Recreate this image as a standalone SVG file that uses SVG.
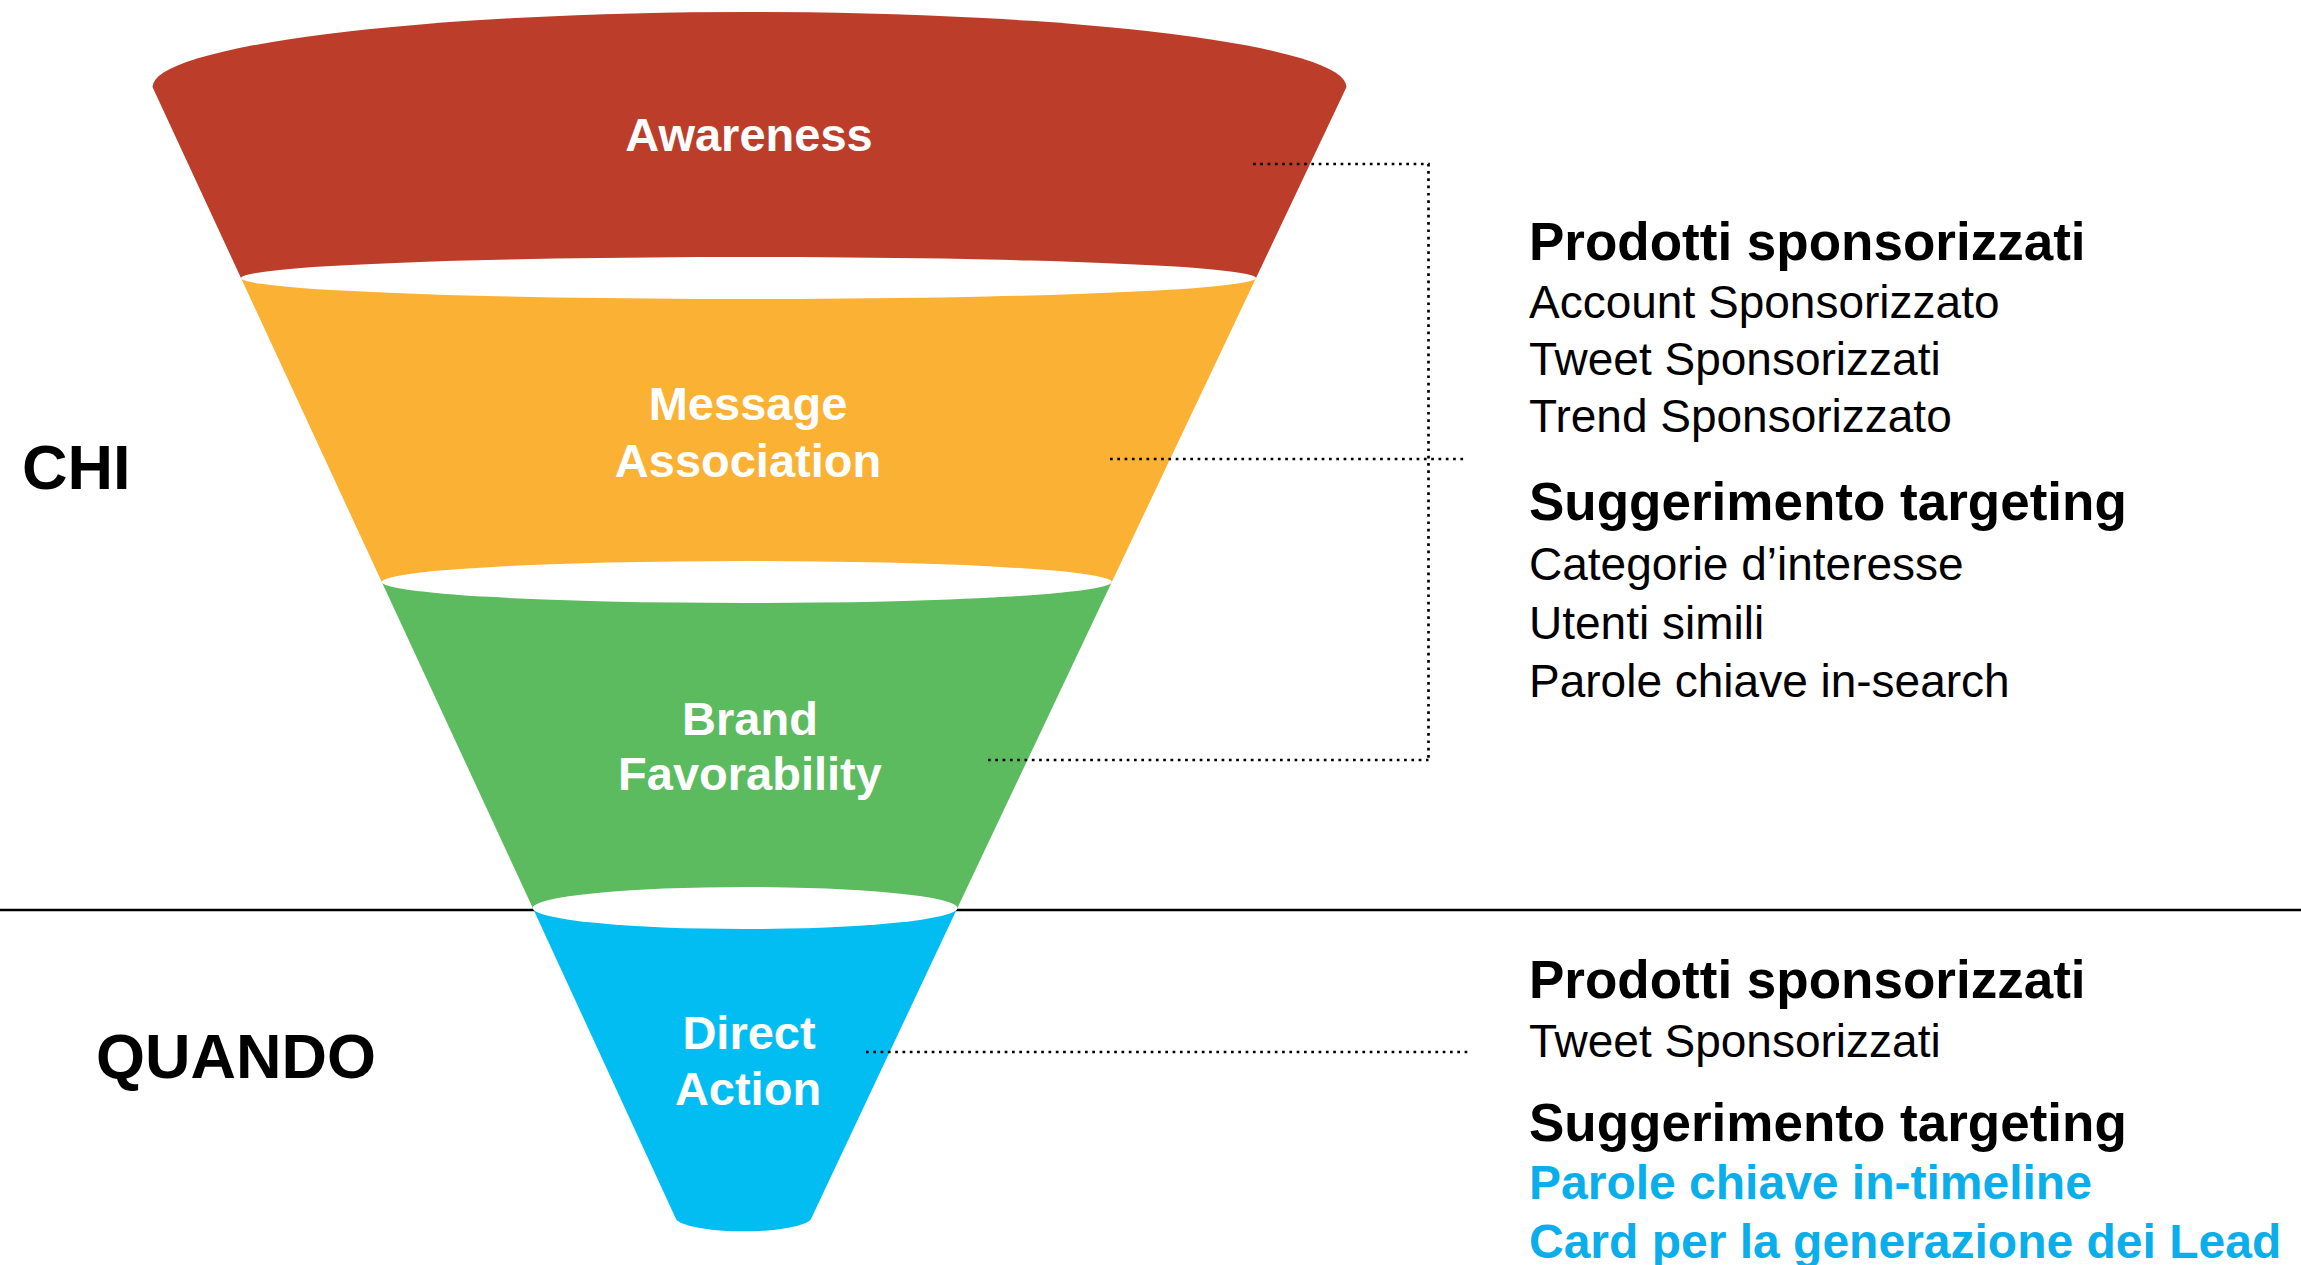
<svg xmlns="http://www.w3.org/2000/svg" width="2301" height="1265" viewBox="0 0 2301 1265">
  <style>
    .stage { font-family: "Liberation Sans", Arial, sans-serif; font-weight: bold; font-size: 47px; fill: #ffffff; text-anchor: middle; }
    .side { font-family: "Liberation Sans", Arial, sans-serif; font-weight: bold; font-size: 63px; fill: #000000; }
    .head { font-family: "Liberation Sans", Arial, sans-serif; font-weight: bold; font-size: 53px; fill: #000000; }
    .item { font-family: "Liberation Sans", Arial, sans-serif; font-size: 46px; fill: #000000; }
    .hl { font-family: "Liberation Sans", Arial, sans-serif; font-weight: bold; font-size: 48px; fill: #0AAEEA; }
    .dot { fill: none; stroke: #000000; stroke-width: 2.7; stroke-dasharray: 2.7 4.6; }
    .gap { fill: #ffffff; }
  </style>
  <rect width="2301" height="1265" fill="#ffffff"/>
  <line x1="0" y1="910" x2="2301" y2="910" stroke="#000000" stroke-width="2.6"/>

  <g id="awareness">
    <path d="M152.5,87 A597,75 0 0 1 1346.5,87 L1256,278 L241,278 Z" fill="#BB3D2A"/>
    <text class="stage" x="749" y="151">Awareness</text>
  </g>
  <g id="message-association">
    <path d="M241,278 L1256,278 L1111.8,582 L381.8,582 Z" fill="#FBB133"/>
    <ellipse class="gap" cx="748.5" cy="278" rx="507.5" ry="21"/>
    <text class="stage" x="748" y="420">Message</text>
    <text class="stage" x="748" y="477">Association</text>
  </g>
  <g id="brand-favorability">
    <path d="M381.8,582 L1111.8,582 L957.4,908 L532.8,908 Z" fill="#5CBA5F"/>
    <ellipse class="gap" cx="746.8" cy="582" rx="365" ry="21"/>
    <text class="stage" x="750" y="735">Brand</text>
    <text class="stage" x="750" y="790">Favorability</text>
  </g>
  <g id="direct-action">
    <path d="M532.8,908 L957.4,908 L811,1219 A68,14 0 0 1 676,1219 Z" fill="#02BDF2"/>
    <ellipse class="gap" cx="745.1" cy="908" rx="212.3" ry="21"/>
    <text class="stage" x="749" y="1049">Direct</text>
    <text class="stage" x="748" y="1105">Action</text>
  </g>

  <g id="label-chi">
    <text class="side" x="22" y="489">CHI</text>
  </g>
  <g id="label-quando">
    <text class="side" x="96" y="1078">QUANDO</text>
  </g>

  <g id="connectors">
    <path class="dot" d="M1253,164 H1428.5 V760"/>
    <path class="dot" d="M988,760 H1428.5"/>
    <path class="dot" d="M1110,459 H1467"/>
    <path class="dot" d="M866,1052 H1469"/>
  </g>

  <g id="chi-details">
    <text class="head" x="1529" y="260">Prodotti sponsorizzati</text>
    <text class="item" x="1529" y="318">Account Sponsorizzato</text>
    <text class="item" x="1529" y="375">Tweet Sponsorizzati</text>
    <text class="item" x="1529" y="432">Trend Sponsorizzato</text>
    <text class="head" x="1529" y="520">Suggerimento targeting</text>
    <text class="item" x="1529" y="580">Categorie d’interesse</text>
    <text class="item" x="1529" y="639">Utenti simili</text>
    <text class="item" x="1529" y="697">Parole chiave in-search</text>
  </g>
  <g id="quando-details">
    <text class="head" x="1529" y="998">Prodotti sponsorizzati</text>
    <text class="item" x="1529" y="1057">Tweet Sponsorizzati</text>
    <text class="head" x="1529" y="1141">Suggerimento targeting</text>
    <text class="hl" x="1529" y="1199">Parole chiave in-timeline</text>
    <text class="hl" x="1529" y="1258">Card per la generazione dei Lead</text>
  </g>
</svg>
